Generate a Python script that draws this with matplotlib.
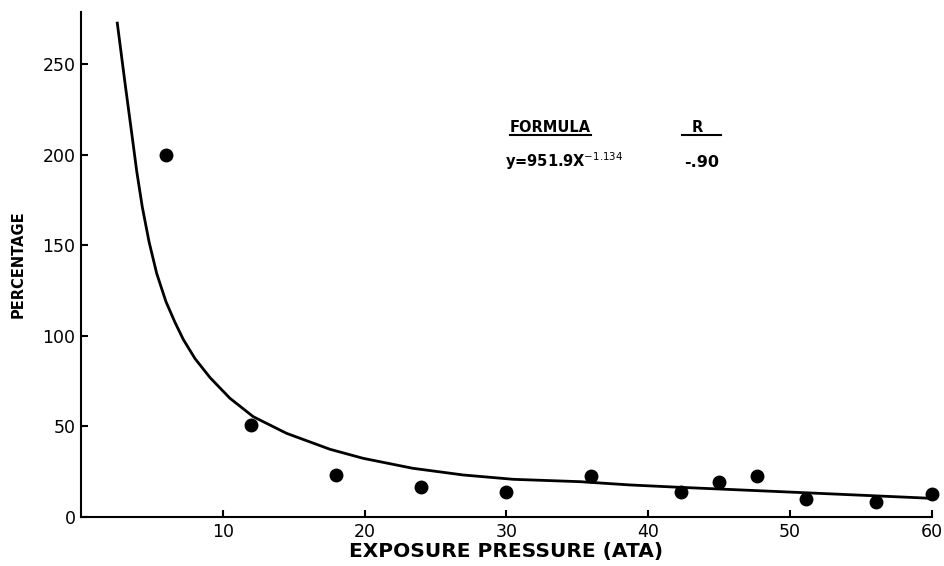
import matplotlib.pyplot as plt

# measured points (exposure pressure vs percentage)
pressure = [6, 12, 18, 24, 30, 36, 42.3, 45, 47.7, 51.1, 56.1, 60]
percentage = [200, 51, 23, 16.5, 14, 22.5, 14, 19.5, 22.5, 10, 8.5, 12.5]

# fitted curve as drawn on the figure
curve_x = [2.56, 3.1, 3.64, 3.93, 4.32, 4.8, 5.34, 5.99, 6.63, 7.22, 8.04,
           9.1, 10.5, 12.15, 14.5, 17.56, 19.9, 23.4, 26.96, 30.5, 35.2, 38.7,
           42.2, 49.3, 60]
curve_y = [272.8, 240, 208.3, 191, 171.4, 152, 134.5, 119, 107.5, 98,
           87.5, 77, 65.6, 55.4, 46.2, 37.4, 32.4, 26.9, 23.2, 20.8, 19.5,
           17.7, 16.4, 14.0, 10.3]

xticks = [10, 20, 30, 40, 50, 60]
yticks = [0, 50, 100, 150, 200, 250]

fig = plt.figure(figsize=(9.45, 5.66), dpi=100)
ax = fig.add_axes([0.0857, 0.0866, 0.9003, 0.8924])

ax.plot(curve_x, curve_y, color='black', linewidth=2, solid_joinstyle='round')
ax.plot(pressure, percentage, 'o', color='black', markersize=9, clip_on=False)

ax.set_xlim(0, 60)
ax.set_ylim(0, 279)
ax.set_xticks(xticks)
ax.set_yticks(yticks)
ax.spines['top'].set_visible(False)
ax.spines['right'].set_visible(False)
ax.spines['left'].set_linewidth(1.5)
ax.spines['bottom'].set_linewidth(1.5)
ax.tick_params(direction='in', length=5, width=1.5, labelsize=12.5, pad=4)

ax.set_xlabel('EXPOSURE PRESSURE (ATA)', fontsize=14.5, fontweight='bold', labelpad=1)
ax.set_ylabel('PERCENTAGE', fontsize=10.5, fontweight='bold', labelpad=12)

# formula and correlation
fig.text(0.582, 0.767, 'FORMULA', fontsize=10.5, fontweight='bold',
         ha='center', va='baseline')
fig.text(0.738, 0.767, 'R', fontsize=10.5, fontweight='bold',
         ha='center', va='baseline')
fig.add_artist(plt.Line2D([0.540, 0.625], [0.761, 0.761], color='black', linewidth=1.5))
fig.add_artist(plt.Line2D([0.722, 0.763], [0.761, 0.761], color='black', linewidth=1.5))
fig.text(0.534, 0.705, 'y=951.9X$^{-1.134}$', fontsize=10.5, fontweight='bold',
         ha='left', va='baseline')
fig.text(0.724, 0.705, '-.90', fontsize=11.5, fontweight='bold',
         ha='left', va='baseline')

fig.savefig('out.png', dpi=100)
